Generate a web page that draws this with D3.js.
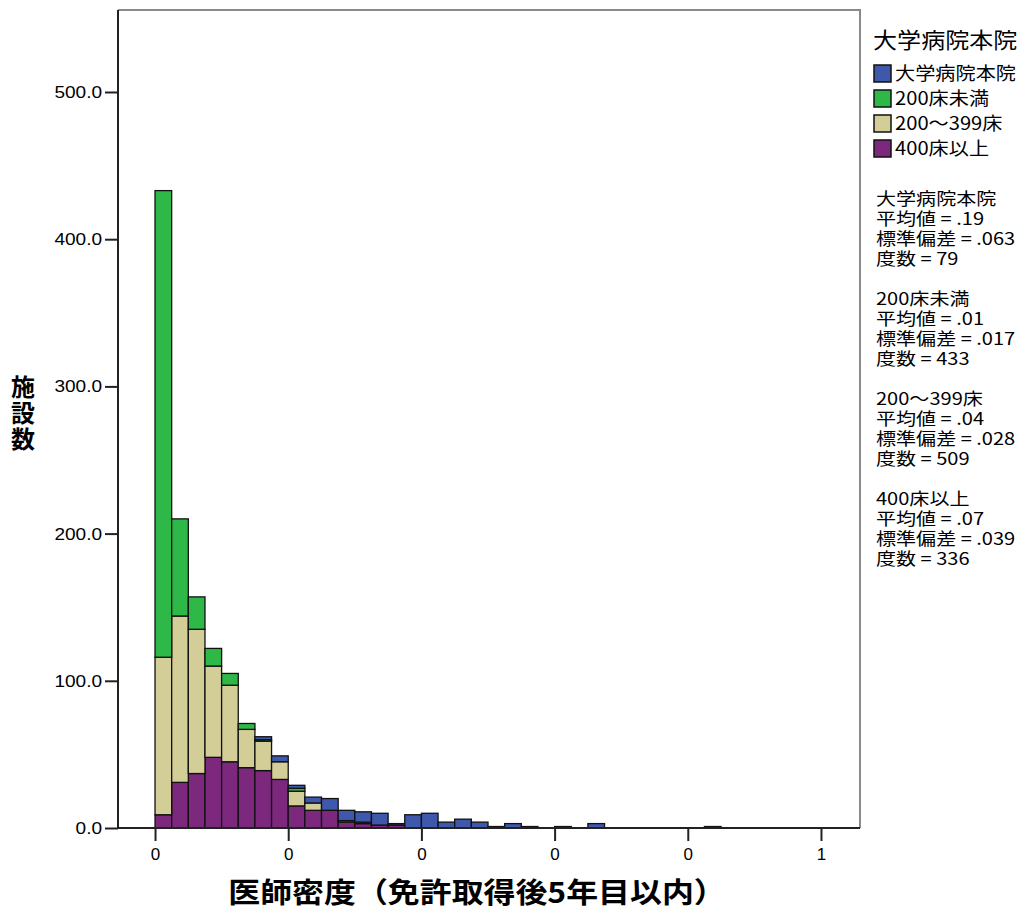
<!DOCTYPE html>
<html>
<head>
<meta charset="utf-8">
<script src="https://cdn.jsdelivr.net/npm/d3@7"></script>
<style>
    body { margin: 0; background: #fff; }
    text { font-family: "Liberation Sans", Arial, sans-serif; fill: #000; }
    .cjk { font-family: "Noto Sans CJK JP", "Liberation Sans", sans-serif; }
</style>
</head>
<body>
<svg id="chart" width="1022" height="917"></svg>
<script>
// DATA //
// lower edge of each histogram bin (bin width .0125)
var binStart = [0, 0.0125, 0.025, 0.0375, 0.05, 0.0625, 0.075, 0.0875, 0.1, 0.1125,
    0.125, 0.1375, 0.15, 0.1625, 0.175, 0.1875, 0.2, 0.2125, 0.225, 0.2375,
    0.25, 0.2625, 0.275, 0.2875, 0.3, 0.3125, 0.325, 0.3375, 0.35, 0.3625,
    0.375, 0.3875, 0.4, 0.4125];
var binWidth = 0.0125;

// counts per bin for each hospital group
var univ = [0, 0, 0, 0, 0, 0, 2, 4, 2, 4, 8, 7, 7, 8, 1, 9, 10, 4, 6, 4,
    1, 3, 1, 0, 1, 0, 3, 0, 0, 0, 0, 0, 0, 1];
var under200 = [317, 66, 22, 12, 8, 4, 1, 0, 2, 0, 0, 0, 0, 0, 0, 0, 0, 0, 0, 0,
    0, 0, 0, 0, 0, 0, 0, 0, 0, 0, 0, 0, 0, 0];
var mid = [107, 113, 98, 62, 52, 26, 20, 12, 10, 5, 0, 1, 1, 0, 0, 0, 0, 0, 0, 0,
    0, 0, 0, 0, 0, 0, 0, 0, 0, 0, 0, 0, 0, 0];
var over400 = [9, 31, 37, 48, 45, 41, 39, 33, 15, 12, 12, 4, 3, 2, 2, 0, 0, 0, 0, 0,
    0, 0, 0, 0, 0, 0, 0, 0, 0, 0, 0, 0, 0, 0];

var groupKeys = ['univ', 'under200', 'mid', 'over400'];
var groupNames = ['大学病院本院', '200床未満', '200～399床', '400床以上'];
var groupColors = ['#3E58AC', '#2EB848', '#D3CE97', '#7C287D'];

var statMean = ['.19', '.01', '.04', '.07'];
var statSd = ['.063', '.017', '.028', '.039'];
var statN = ['79', '433', '509', '336'];

var yTicks = [0, 100, 200, 300, 400, 500];
var xTicks = [0, 0.1, 0.2, 0.3, 0.4, 0.5];
var xTickLabels = ['0', '0', '0', '0', '0', '1'];

// CHART //
var svg = d3.select('#chart');
var plot = { left: 118, top: 10, right: 860, bottom: 828 },
    sx = 1.12; // text looks a bit wide in the original

var x = d3.scaleLinear().domain([-0.0278, 0.5293]).range([plot.left, plot.right]);
var y = d3.scaleLinear().domain([0, 555.7]).range([plot.bottom, plot.top]);

// frame
svg.append('path')
    .attr('d', 'M' + plot.left + ',' + plot.top + 'H' + plot.right + 'V' + plot.bottom)
    .attr('fill', 'none')
    .attr('stroke', '#8a8a8a')
    .attr('stroke-width', 2);

var rows = binStart.map(function(b, i) {
    return { x0: b, univ: univ[i], under200: under200[i], mid: mid[i], over400: over400[i] };
});

// stacked from the bottom: 400床以上, 200～399床, 200床未満, 大学病院本院
var stack = d3.stack().keys(groupKeys.slice().reverse())(rows);

svg.append('g').selectAll('g')
    .data(stack)
    .enter().append('g')
    .attr('fill', function(d) { return groupColors[groupKeys.indexOf(d.key)]; })
    .selectAll('rect')
    .data(function(d) { return d.filter(function(s) { return s[1] > s[0]; }); })
    .enter().append('rect')
    .attr('x', function(d) { return x(d.data.x0); })
    .attr('width', function(d) { return x(d.data.x0 + binWidth) - x(d.data.x0); })
    .attr('y', function(d) { return y(d[1]); })
    .attr('height', function(d) { return y(d[0]) - y(d[1]); })
    .attr('stroke', '#111')
    .attr('stroke-width', 1.3);

// axes
var yAxis = svg.append('g')
    .attr('transform', 'translate(' + plot.left + ',0)')
    .call(d3.axisLeft(y).tickValues(yTicks).tickFormat(d3.format('.1f')).tickSize(13).tickPadding(3));

var xAxis = svg.append('g')
    .attr('transform', 'translate(0,' + plot.bottom + ')')
    .call(d3.axisBottom(x).tickValues(xTicks).tickFormat(function(d, i) { return xTickLabels[i]; }).tickSize(13).tickPadding(7));

[yAxis, xAxis].forEach(function(a) {
    a.select('.domain').attr('stroke', '#222').attr('stroke-width', 2);
    a.selectAll('.tick line').attr('stroke', '#222').attr('stroke-width', 2);
    a.selectAll('.tick text').attr('font-size', 17).attr('font-family', '"Liberation Sans", Arial, sans-serif');
});
yAxis.selectAll('.tick text').attr('transform', 'scale(' + sx + ',1)').attr('x', -16 / sx);
xAxis.select('.domain').attr('d', 'M' + plot.left + ',0H' + plot.right);
yAxis.select('.domain').attr('d', 'M0,' + plot.bottom + 'V' + plot.top);

// axis titles
svg.append('text')
    .attr('class', 'cjk')
    .attr('transform', 'translate(477,903) scale(' + sx + ',1)')
    .attr('text-anchor', 'middle')
    .attr('font-size', 28.5)
    .attr('font-weight', 'bold')
    .text('医師密度（免許取得後5年目以内）');

var yTitle = svg.append('text')
    .attr('class', 'cjk')
    .attr('font-size', 24)
    .attr('font-weight', 'bold')
    .attr('text-anchor', 'middle');
'施設数'.split('').forEach(function(c, i) {
    yTitle.append('tspan').attr('x', 23).attr('y', 396 + i * 26).text(c);
});

// legend
var legend = svg.append('g').attr('transform', 'translate(873,0)');

legend.append('text')
    .attr('class', 'cjk')
    .attr('transform', 'translate(0,48) scale(' + sx + ',1)')
    .attr('font-size', 21.5)
    .text(groupNames[0]);

var item = legend.selectAll('.item')
    .data(groupNames)
    .enter().append('g')
    .attr('class', 'item')
    .attr('transform', function(d, i) { return 'translate(0,' + (64 + i * 25) + ')'; });

item.append('rect')
    .attr('x', 1).attr('y', 1)
    .attr('width', 17).attr('height', 17)
    .attr('fill', function(d, i) { return groupColors[i]; })
    .attr('stroke', '#111')
    .attr('stroke-width', 1.5);

item.append('text')
    .attr('class', 'cjk')
    .attr('transform', 'translate(22,16) scale(' + sx + ',1)')
    .attr('font-size', 18)
    .text(function(d) { return d; });

// summary statistics
var stats = legend.selectAll('.stat')
    .data(groupNames)
    .enter().append('text')
    .attr('class', 'cjk stat')
    .attr('transform', function(d, i) { return 'translate(3,' + (205 + i * 100) + ') scale(1.18,1)'; })
    .attr('font-size', 17);

stats.each(function(d, i) {
    var t = d3.select(this);
    var lines = [d, '平均値 = ' + statMean[i], '標準偏差 = ' + statSd[i], '度数 = ' + statN[i]];
    lines.forEach(function(l, j) {
        t.append('tspan').attr('x', 0).attr('y', j * 20).text(l);
    });
});
</script>
</body>
</html>
